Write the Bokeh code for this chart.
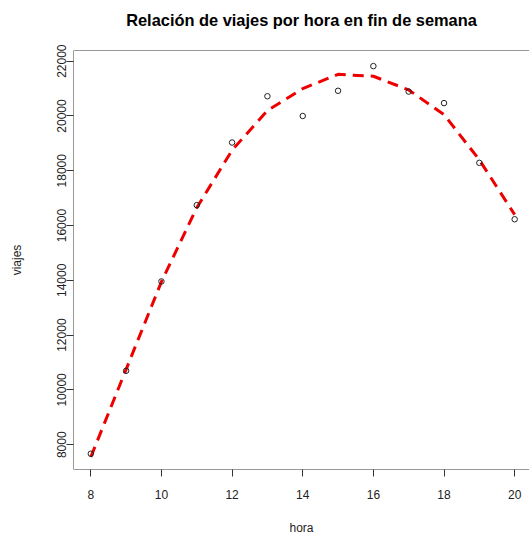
from bokeh.plotting import figure
from bokeh.models import Range1d, FixedTicker, Span, ColumnDataSource, Title
from bokeh.embed import file_html
from bokeh.resources import INLINE

# Data
hora = [8, 9, 10, 11, 12, 13, 14, 15, 16, 17, 18, 19, 20]
viajes = [7670, 10700, 13960, 16745, 19030, 20720, 20000, 20920, 21820, 20890, 20470, 18290, 16230]
ajuste = [7550, 10750, 13950, 16650, 18750, 20200, 21000, 21520, 21450, 20950, 20050, 18400, 16400]

x_ticks = [8, 10, 12, 14, 16, 18, 20]
y_ticks = [8000, 10000, 12000, 14000, 16000, 18000, 20000, 22000]
titulo = "Relación de viajes por hora en fin de semana"

FONT = "Liberation Sans"
TXT = "#222222"

src = ColumnDataSource(dict(hora=hora, viajes=viajes, ajuste=ajuste))

p = figure(width=529, height=539, output_backend="svg", toolbar_location=None,
           x_range=Range1d(7.51, 20.42), y_range=Range1d(7095, 22390),
           min_border_left=73, min_border_right=0, min_border_top=50, min_border_bottom=70,
           x_axis_label="hora", y_axis_label="viajes")

p.outline_line_color = None
p.grid.visible = False
p.background_fill_color = "white"
p.border_fill_color = "white"

# spacer panel next to the frame, then the title above it
p.add_layout(Title(text=" ", text_font=FONT, text_font_size="16px",
                   text_font_style="bold", standoff=3), "above")
p.add_layout(Title(text=titulo, align="center", text_font=FONT, text_font_size="16.4px",
                   text_font_style="bold", text_color="#000000", standoff=0), "above")

for ax in (p.xaxis[0], p.yaxis[0]):
    ax.axis_line_color = None
    ax.major_tick_line_color = "#333333"
    ax.major_tick_out = 7
    ax.major_tick_in = 0
    ax.minor_tick_line_color = None
    ax.major_label_text_font = FONT
    ax.major_label_text_font_size = "12px"
    ax.major_label_text_color = TXT
    ax.axis_label_text_font = FONT
    ax.axis_label_text_font_size = "12px"
    ax.axis_label_text_font_style = "normal"
    ax.axis_label_text_color = TXT

p.xaxis[0].ticker = FixedTicker(ticks=x_ticks)
p.yaxis[0].ticker = FixedTicker(ticks=y_ticks)
p.xaxis[0].major_label_standoff = 13
p.xaxis[0].axis_label_standoff = 19
p.yaxis[0].major_label_orientation = "vertical"
p.yaxis[0].major_label_standoff = 0
p.yaxis[0].axis_label_standoff = 31

# plot box (left, top, bottom; right edge lies outside the window)
for loc, dim in ((p.x_range.start, "height"), (p.y_range.start, "width"), (p.y_range.end, "width")):
    p.add_layout(Span(location=loc, dimension=dim, line_color="#333333", line_width=1))

p.line("hora", "ajuste", source=src, line_color="#ee0000", line_width=3,
       line_dash="11 7")
p.scatter("hora", "viajes", source=src, marker="circle", size=5.5,
          fill_color=None, line_color="#222222", line_width=1)

open("out.html", "w").write(file_html(p, INLINE))
